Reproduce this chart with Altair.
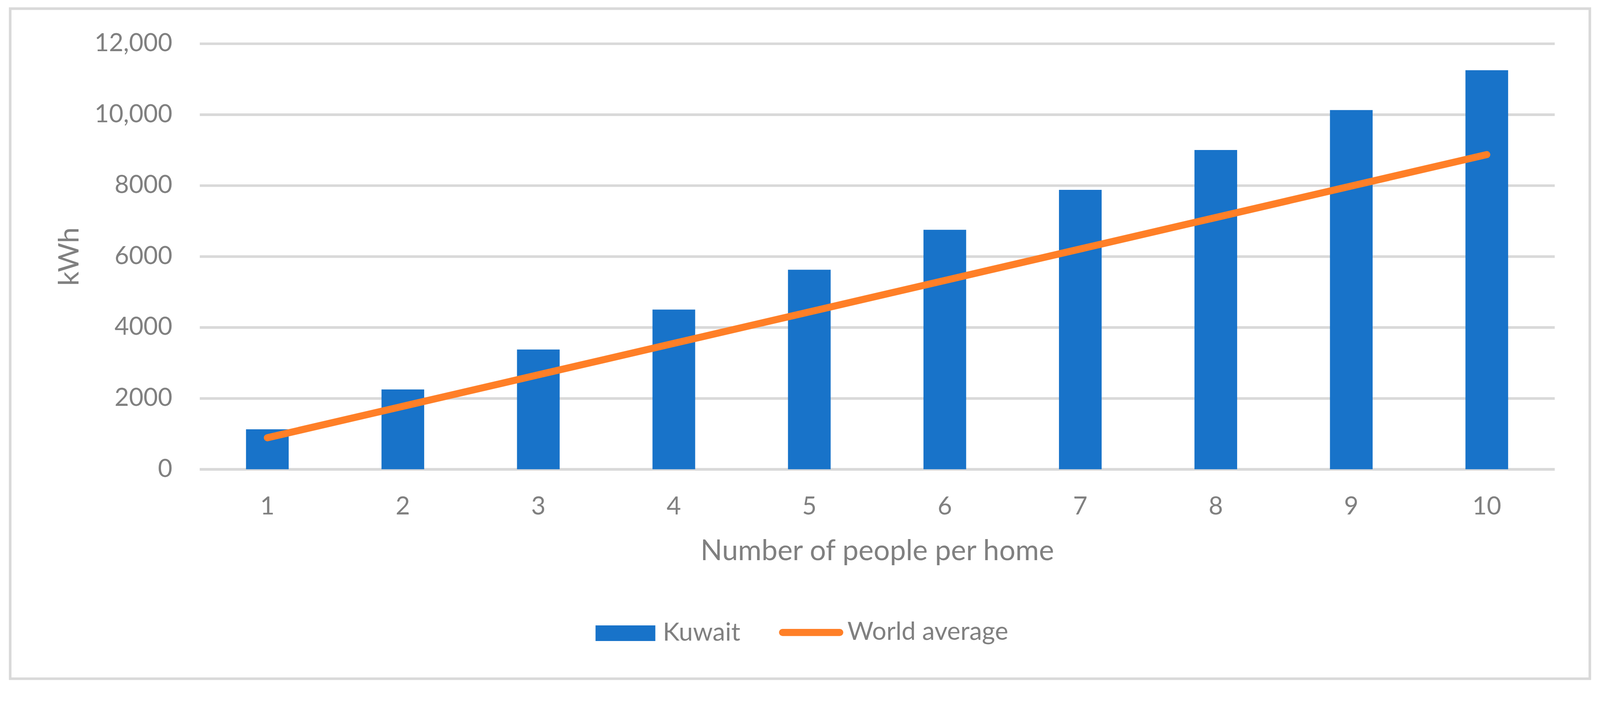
import altair as alt
import pandas as pd

# ---- data ----
people = [1, 2, 3, 4, 5, 6, 7, 8, 9, 10]
kuwait = [1125, 2250, 3375, 4500, 5625, 6750, 7875, 9000, 10125, 11250]
world_avg = [887, 1774, 2661, 3548, 4435, 5322, 6209, 7096, 7983, 8870]
y_ticks = [0, 2000, 4000, 6000, 8000, 10000, 12000]
series_names = ["Kuwait", "World average"]

FONT = "Lato"
GREY = "#808080"
GRID = "#D9D9D9"
BLUE = "#1873C9"
ORANGE = "#FF7F27"

W, H = 3648, 1146
PAD_TOP = 63
TOTAL_W, TOTAL_H = 4291, 1775

bars_df = pd.DataFrame({"people": people, "kwh": kuwait, "series": series_names[0]})
line_df = pd.DataFrame({"people": people, "kwh": world_avg, "series": series_names[1]})
frame_df = pd.DataFrame({"k": [0]})

x_enc = alt.X(
    "people:O",
    scale=alt.Scale(paddingInner=0.685, paddingOuter=0.3425),
    axis=alt.Axis(
        title="Number of people per home",
        labelAngle=0,
        ticks=False,
        domainColor=GRID,
        domainWidth=7,
        labelBaseline="alphabetic",
        labelPadding=121,
        labelFontSize=67,
        labelLimit=2000,
        titleFontSize=77,
        titleBaseline="alphabetic",
        titleY=244,
        grid=False,
    ),
)

y_enc = alt.Y(
    "kwh:Q",
    scale=alt.Scale(domain=[0, 12000], nice=False),
    axis=alt.Axis(
        title="kWh",
        values=y_ticks,
        labelExpr="datum.value >= 10000 ? format(datum.value, ',') : format(datum.value, 'd')",
        ticks=False,
        domain=False,
        labelPadding=74,
        labelFontSize=67,
        labelLimit=2000,
        titleFontSize=76,
        titleAngle=270,
        titleBaseline="alphabetic",
        titleX=-327,
        gridColor=GRID,
        gridWidth=7,
    ),
)

bars = alt.Chart(bars_df).mark_bar().encode(
    x=x_enc,
    y=y_enc,
    fill=alt.Fill(
        "series:N",
        scale=alt.Scale(domain=[series_names[0]], range=[BLUE]),
        legend=alt.Legend(
            title=None,
            orient="none",
            legendX=1066,
            legendY=1507,
            symbolType="M-1,-0.261H1V0.261H-1Z",
            symbolSize=161 * 161,
            symbolStrokeWidth=0,
            labelOffset=20,
            labelFontSize=68,
            labelLimit=2000,
            padding=0,
        ),
    ),
)

capsule = "M-0.89,-0.11L0.89,-0.11A0.11,0.11 0 0 1 0.89,0.11L-0.89,0.11A0.11,0.11 0 0 1 -0.89,-0.11Z"

line = alt.Chart(line_df).mark_line(strokeWidth=19, strokeCap="round", strokeJoin="round").encode(
    x="people:O",
    y="kwh:Q",
    stroke=alt.Stroke(
        "series:N",
        scale=alt.Scale(domain=[series_names[1]], range=[ORANGE]),
        legend=alt.Legend(
            title=None,
            orient="none",
            legendX=1560,
            legendY=1499,
            symbolType=capsule,
            symbolSize=173 * 173,
            symbolFillColor=ORANGE,
            symbolStrokeWidth=0,
            labelOffset=11,
            labelFontSize=68,
            labelLimit=2000,
            padding=0,
        ),
    ),
)

frame = alt.Chart(frame_df).mark_rect(fill=None, stroke=GRID, strokeWidth=7, clip=False).encode(
    x=alt.value(27 - 537),
    x2=alt.value(4280 - 537),
    y=alt.value(25 - 119),
    y2=alt.value(1829 - 119),
)

chart = (
    alt.layer(frame, bars, line)
    .resolve_scale(fill="independent", stroke="independent")
    .properties(
        width=W,
        height=H,
        autosize=alt.AutoSizeParams(type="none"),
        padding={"left": 529, "top": PAD_TOP, "right": TOTAL_W - 529 - W, "bottom": TOTAL_H - PAD_TOP - H},
        background="white",
    )
    .configure_view(stroke=None)
    .configure_axis(
        labelFont=FONT,
        titleFont=FONT,
        labelColor=GREY,
        titleColor=GREY,
        titleFontWeight="normal",
    )
    .configure_legend(labelFont=FONT, labelColor=GREY)
)

chart.save("out.html", embed_options={"renderer": "svg", "actions": False})
